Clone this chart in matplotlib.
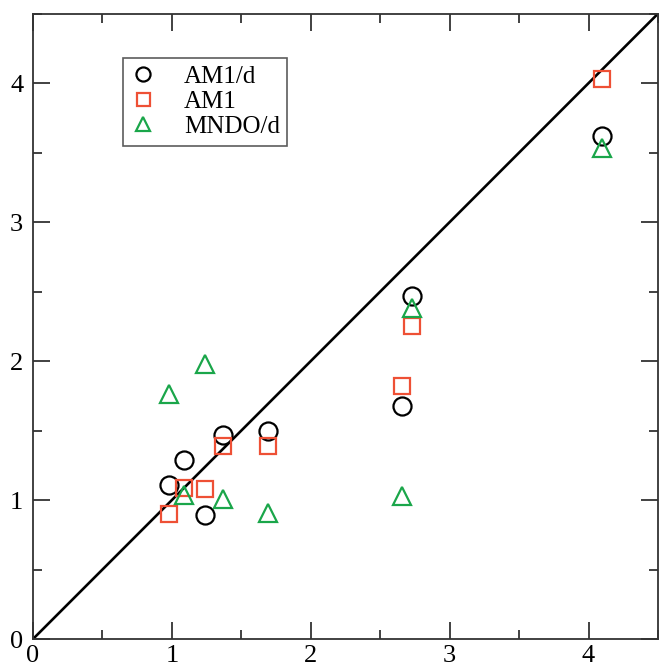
import matplotlib
matplotlib.use("Agg")
import matplotlib.pyplot as plt
from matplotlib.ticker import MultipleLocator

plt.rcParams['font.family'] = ['Liberation Serif', 'DejaVu Serif']

x_vals = [0.98, 1.09, 1.24, 1.37, 1.69, 2.66, 2.73, 4.10]
am1d = [1.11, 1.29, 0.89, 1.47, 1.50, 1.68, 2.47, 3.62]
am1 = [0.90, 1.09, 1.08, 1.39, 1.39, 1.82, 2.25, 4.03]
mndod = [1.76, 1.04, 1.98, 1.01, 0.91, 1.03, 2.38, 3.53]
diag = [0, 4.5]

fig = plt.figure(figsize=(6.59, 6.65), dpi=100)
ax = fig.add_axes([0.05, 0.039, 0.9485, 0.9405])

ax.plot(diag, diag, color='black', lw=1.9, zorder=1)
ax.plot(x_vals, am1d, 'o', ms=13, mfc='none', mec='black', mew=1.6, label='AM1/d', zorder=3)
ax.plot(x_vals, am1, 's', ms=12, mfc='none', mec='#ee5035', mew=1.6, label='AM1', zorder=3)
ax.plot(x_vals, mndod, '^', ms=13, mfc='none', mec='#1aa64a', mew=1.6, label='MNDO/d', zorder=3)

ax.set_xlim(0, 4.5)
ax.set_ylim(0, 4.5)
ax.xaxis.set_major_locator(MultipleLocator(1))
ax.xaxis.set_minor_locator(MultipleLocator(0.5))
ax.yaxis.set_major_locator(MultipleLocator(1))
ax.yaxis.set_minor_locator(MultipleLocator(0.5))
ax.tick_params(which='both', direction='in', top=True, right=True, width=1.3, color='#333333', labelsize=19)
ax.tick_params(which='major', length=12.5)
ax.tick_params(which='minor', length=6.5)
ax.tick_params(axis='x', pad=4)
ax.tick_params(axis='y', pad=7)
for s in ax.spines.values():
    s.set_linewidth(1.3)
    s.set_color('#333333')

leg = ax.legend(loc='upper left', bbox_to_anchor=(0.1435, 0.929), fontsize=18, frameon=True,
                fancybox=False, edgecolor='#333333', borderpad=0.3, handletextpad=1.15,
                labelspacing=0.1, handlelength=1.0, borderaxespad=0, markerscale=0.78)
leg.get_frame().set_linewidth(1.2)

fig.savefig('out.png', dpi=100)
